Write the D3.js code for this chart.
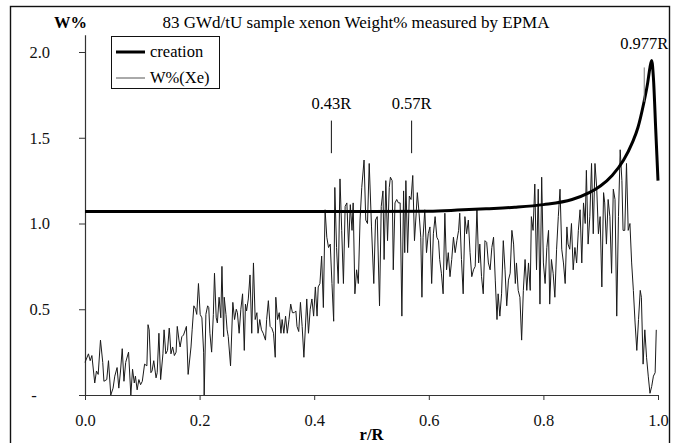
<!DOCTYPE html>
<html>
<head>
<meta charset="utf-8">
<script src="https://cdn.jsdelivr.net/npm/d3@7"></script>
<style>
  html, body { margin: 0; padding: 0; background: #fff; }
  svg { display: block; }
  svg text { font-family: "Liberation Serif", "Times New Roman", Times, "DejaVu Serif", serif; }
</style>
</head>
<body>
<svg id="chart" width="678" height="443"></svg>
<script>
// ---- data ----
const chartTitle = "83 GWd/tU sample xenon Weight% measured by EPMA";
const yLabel = "W%";
const xLabel = "r/R";
const legendNames = ["creation", "W%(Xe)"];

const xTicks = [0, 0.2, 0.4, 0.6, 0.8, 1.0];
const yTicks = [0, 0.5, 1.0, 1.5, 2.0];

// calculated xenon creation profile
const creationR = [0, 0.5, 0.6, 0.65, 0.7, 0.75, 0.8, 0.85, 0.88, 0.9, 0.92, 0.94, 0.955,
                   0.965, 0.975, 0.982, 0.986, 0.989, 0.992, 0.996, 1.0];
const creationW = [1.07, 1.07, 1.072, 1.078, 1.086, 1.095, 1.11, 1.14, 1.18, 1.22, 1.28, 1.37, 1.47,
                   1.56, 1.70, 1.82, 1.91, 1.95, 1.85, 1.55, 1.25];

// EPMA xenon weight% along the radius
const xeR = [
  0.000,0.006,0.009,0.012,0.017,0.020,0.023,0.027,0.031,0.033,0.038,0.041,0.045,0.049,0.052,
  0.056,0.059,0.062,0.065,0.068,0.071,0.076,0.080,0.083,0.086,0.088,0.091,0.094,0.097,0.100,
  0.104,0.108,0.110,0.112,0.115,0.117,0.120,0.124,0.126,0.129,0.132,0.136,0.138,0.141,0.144,
  0.147,0.148,0.150,0.153,0.156,0.159,0.161,0.164,0.166,0.169,0.172,0.175,0.177,0.180,0.185,
  0.187,0.190,0.193,0.195,0.198,0.201,0.204,0.207,0.208,0.211,0.214,0.216,0.218,0.221,0.224,
  0.226,0.229,0.231,0.234,0.237,0.239,0.242,0.243,0.246,0.248,
  0.250,0.254,0.258,0.261,0.264,0.266,0.269,0.272,0.275,0.278,0.280,0.282,0.285,0.288,0.291,
  0.294,0.297,0.300,0.302,0.305,0.308,0.311,0.315,0.317,0.320,0.323,0.326,0.329,0.332,0.333,
  0.336,0.339,0.342,0.344,0.347,0.350,0.353,0.356,0.359,0.362,0.365,0.368,0.370,0.373,0.376,
  0.379,0.382,0.385,0.387,0.390,0.393,0.396,0.399,0.402,0.405,0.407,0.410,0.413,0.416,0.419,
  0.422,0.425,0.428,0.431,0.434,0.436,0.439,0.442,0.445,0.448,0.451,0.454,0.457,0.460,0.463,
  0.466,0.468,0.471,0.474,0.477,0.480,0.483,0.487,0.490,0.493,0.496,
  0.500,0.504,0.507,0.510,0.514,0.517,0.520,0.522,0.525,0.528,0.531,0.533,0.536,0.538,0.541,
  0.544,0.547,0.550,0.553,0.556,0.558,0.560,0.563,0.566,0.569,0.572,0.575,0.578,0.580,0.583,
  0.586,0.588,0.590,0.593,0.596,0.599,0.602,0.605,0.608,0.611,0.614,0.617,0.619,0.622,0.625,
  0.628,0.631,0.634,0.637,0.640,0.643,0.646,0.649,0.652,0.654,0.657,0.660,0.663,0.666,0.669,
  0.672,0.675,0.678,0.681,0.684,0.687,0.689,0.692,0.695,0.698,0.701,0.704,0.707,0.710,0.713,
  0.716,0.719,0.721,0.724,0.727,0.730,0.733,0.736,0.739,
  0.742,0.745,0.748,0.751,0.753,0.756,0.759,0.762,0.765,0.768,0.771,0.774,0.777,0.779,0.782,
  0.785,0.788,0.791,0.794,0.797,0.800,0.803,0.806,0.809,0.811,0.814,0.817,0.820,0.823,0.826,
  0.829,0.832,0.835,0.838,0.841,0.843,0.846,0.849,0.852,0.855,0.858,0.861,0.864,0.867,0.870,
  0.873,0.875,0.878,0.881,0.884,0.887,0.890,0.893,0.896,0.899,0.902,0.905,0.907,0.910,0.913,
  0.916,0.919,0.922,0.925,0.928,0.931,0.934,0.937,0.939,0.942,0.945,0.948,0.951,0.954,0.957,
  0.960,0.963,0.966,0.969,0.971,0.974,0.977,0.980,0.983,0.986,0.989,0.992,0.995,0.997
];
const xeW = [
  0.19,0.24,0.20,0.23,0.07,0.14,0.12,0.32,0.19,0.08,0.09,0.20,0.00,0.04,0.11,
  0.16,0.04,0.14,0.27,0.08,0.19,0.25,0.00,0.15,0.07,0.11,0.03,0.09,0.06,0.08,
  0.18,0.17,0.41,0.38,0.13,0.14,0.20,0.10,0.13,0.36,0.09,0.24,0.38,0.24,0.26,
  0.39,0.35,0.24,0.28,0.23,0.25,0.40,0.32,0.28,0.34,0.35,0.38,0.40,0.12,0.28,
  0.38,0.52,0.50,0.47,0.65,0.47,0.45,0.25,0.00,0.47,0.52,0.51,0.36,0.25,0.47,
  0.71,0.45,0.42,0.57,0.45,0.75,0.34,0.57,0.47,0.38,
  0.34,0.17,0.54,0.44,0.50,0.48,0.36,0.50,0.59,0.26,0.53,0.49,0.56,0.70,0.36,
  0.77,0.44,0.48,0.36,0.44,0.38,0.36,0.32,0.44,0.55,0.40,0.39,0.36,0.22,0.57,
  0.44,0.48,0.36,0.44,0.36,0.46,0.36,0.44,0.53,0.48,0.48,0.49,0.40,0.37,0.54,
  0.40,0.22,0.42,0.56,0.36,0.50,0.56,0.46,0.63,0.46,0.63,0.65,0.81,0.51,1.08,
  0.92,0.86,0.88,0.65,0.43,1.21,0.86,0.65,1.26,0.96,0.65,1.10,1.12,0.86,1.11,
  0.96,1.12,0.59,0.73,0.65,1.02,1.21,1.37,1.02,1.00,1.35,
  0.98,0.65,1.02,1.04,0.52,1.10,1.19,0.79,1.25,0.90,1.21,1.27,1.25,0.73,1.12,
  1.14,1.12,1.12,0.46,1.19,0.83,1.25,0.83,1.16,1.14,1.28,0.90,1.06,1.18,1.06,
  0.92,0.57,0.92,1.08,0.83,0.94,0.98,0.65,0.94,1.04,0.92,0.90,0.79,0.71,0.59,
  1.06,0.73,0.83,0.69,0.79,0.92,0.83,0.90,0.96,1.06,0.79,0.59,1.04,0.94,1.02,
  0.83,0.69,0.73,0.75,1.09,0.77,0.88,0.69,0.59,0.90,0.89,0.77,0.73,0.86,0.92,
  0.67,0.44,0.59,0.46,0.59,0.90,0.73,0.52,0.67,
  0.71,0.96,0.88,0.65,0.77,0.61,0.57,0.32,0.61,0.79,0.61,0.77,0.61,1.04,0.96,
  1.23,0.73,1.20,0.53,1.27,0.77,0.65,0.86,0.96,0.53,0.79,0.71,0.57,0.85,1.04,
  1.20,0.85,0.77,0.65,0.98,0.88,0.85,1.00,0.73,0.86,0.77,0.96,1.08,0.77,1.12,
  1.00,1.31,0.88,1.04,1.35,0.94,1.35,1.21,0.94,1.04,0.63,1.18,1.12,0.88,1.14,
  1.04,0.71,1.20,1.14,0.46,1.04,1.43,1.25,0.96,0.96,1.35,0.96,1.00,0.77,0.61,
  0.42,0.26,0.44,0.61,0.57,0.18,0.38,0.22,0.11,0.01,0.05,0.11,0.13,0.38
];

// radial position markers: label, r, marker span (W%), label height (W%)
const markLabels = ["0.43R", "0.57R", "0.977R"];
const markR      = [0.43, 0.57, 0.976];
const markLow    = [1.41, 1.41, 1.71];
const markHigh   = [1.60, 1.60, 1.91];
const markText   = [1.67, 1.67, 2.02];

// ---- drawing ----
const FONT = "Liberation Serif, Times New Roman, Times, DejaVu Serif, serif";
const FS = 16.5;
const svg = d3.select("#chart");

const x = d3.scaleLinear().domain([0, 1]).range([85, 658]);
const y = d3.scaleLinear().domain([0, 2.1]).range([395, 34.85]);

// chart frame (open at the bottom edge of the page)
svg.append("rect")
  .attr("x", 10.5).attr("y", 6.5)
  .attr("width", 659).attr("height", 440)
  .attr("fill", "#fff").attr("stroke", "#111").attr("stroke-width", 1.4);

// title and axis names
svg.append("text")
  .attr("x", 356).attr("y", 28)
  .attr("text-anchor", "middle")
  .attr("font-family", FONT).attr("font-size", 17)
  .text(chartTitle);

svg.append("text")
  .attr("x", 87).attr("y", 28)
  .attr("text-anchor", "end")
  .attr("font-family", FONT).attr("font-size", FS).attr("font-weight", "bold")
  .text(yLabel);

svg.append("text")
  .attr("x", (x(0) + x(1)) / 2).attr("y", 440)
  .attr("text-anchor", "middle")
  .attr("font-family", FONT).attr("font-size", FS).attr("font-weight", "bold")
  .text(xLabel);

// axes
const xAxis = d3.axisBottom(x)
  .tickValues(xTicks)
  .tickFormat(d3.format(".1f"))
  .tickSize(5).tickSizeOuter(0).tickPadding(14);

const yAxis = d3.axisLeft(y)
  .tickValues(yTicks)
  .tickFormat(d => d === 0 ? "-" : d3.format(".1f")(d))
  .tickSize(6).tickSizeOuter(0).tickPadding(29);

const gx = svg.append("g").attr("transform", `translate(0,${y(0)})`).call(xAxis);
const gy = svg.append("g").attr("transform", `translate(${x(0)},0)`).call(yAxis);

[gx, gy].forEach(g => {
  g.attr("font-family", FONT).attr("font-size", FS);
  g.selectAll("path.domain").attr("stroke", "#333").attr("stroke-width", 1.2);
  g.selectAll(".tick line").attr("stroke", "#333").attr("stroke-width", 1);
  g.selectAll(".tick text").attr("fill", "#111");
});
// zero is shown as a dash, set further left
gy.selectAll(".tick text").filter(d => d === 0)
  .attr("text-anchor", "middle").attr("x", -51);

// measured W%(Xe)
const xeData = d3.zip(xeR, xeW);
svg.append("path")
  .datum(xeData)
  .attr("fill", "none")
  .attr("stroke", "#1a1a1a")
  .attr("stroke-width", 1)
  .attr("stroke-linejoin", "round")
  .attr("d", d3.line().x(d => x(d[0])).y(d => y(d[1])));

// calculated creation
const creationData = d3.zip(creationR, creationW);
svg.append("path")
  .datum(creationData)
  .attr("fill", "none")
  .attr("stroke", "#000")
  .attr("stroke-width", 3)
  .attr("stroke-linejoin", "round")
  .attr("d", d3.line().curve(d3.curveMonotoneX).x(d => x(d[0])).y(d => y(d[1])));

// radial markers
const marks = markLabels.map((t, i) => ({ t, r: markR[i], lo: markLow[i], hi: markHigh[i], ty: markText[i] }));
const mg = svg.append("g");
mg.selectAll("line").data(marks).join("line")
  .attr("x1", d => x(d.r)).attr("x2", d => x(d.r))
  .attr("y1", d => y(d.lo)).attr("y2", d => y(d.hi))
  .attr("stroke", (d, i) => i === 2 ? "#777" : "#111")
  .attr("stroke-width", 1);
mg.selectAll("text").data(marks).join("text")
  .attr("x", d => x(d.r)).attr("y", d => y(d.ty))
  .attr("text-anchor", "middle")
  .attr("font-family", FONT).attr("font-size", FS)
  .text(d => d.t);

// legend
const lg = svg.append("g").attr("transform", "translate(111,36)");
lg.append("rect")
  .attr("x", 0.5).attr("y", 0.5).attr("width", 108).attr("height", 52)
  .attr("fill", "#fff").attr("stroke", "#111").attr("stroke-width", 1);
const legendStroke = [3, 1];
const legendColor = ["#000", "#555"];
legendNames.forEach((name, i) => {
  const cy = 16 + i * 26;
  lg.append("line")
    .attr("x1", 5).attr("x2", 34).attr("y1", cy).attr("y2", cy)
    .attr("stroke", legendColor[i]).attr("stroke-width", legendStroke[i]);
  lg.append("text")
    .attr("x", 39).attr("y", cy + 5)
    .attr("font-family", FONT).attr("font-size", FS)
    .text(name);
});
</script>
</body>
</html>
